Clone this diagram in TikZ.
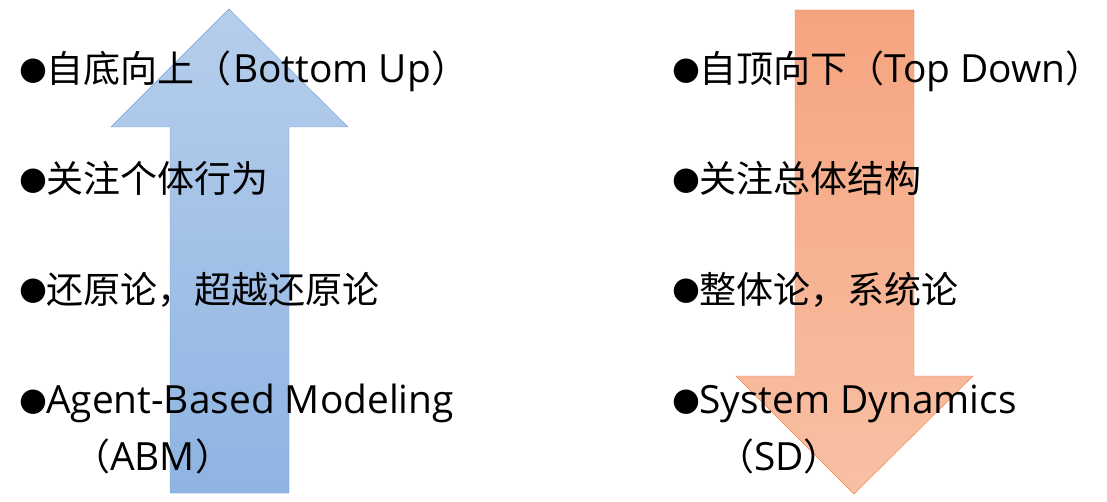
\documentclass[tikz,border=0pt]{standalone}
\usepackage{fontspec}
\setmainfont[Scale=1.05]{Open Sans}
\newfontfamily\cjk{Noto Sans CJK SC}
\newfontfamily\dotfont{DejaVu Sans}

\definecolor{upTop}{RGB}{182,206,236}
\definecolor{upBot}{RGB}{143,180,226}
\definecolor{upLine}{RGB}{112,160,216}
\definecolor{downTop}{RGB}{246,164,128}
\definecolor{downBot}{RGB}{248,192,164}
\definecolor{downLine}{RGB}{240,128,64}

\newcommand\bul{\makebox[27pt][l]{\raisebox{3pt}{\dotfont\fontsize{32}{32}\selectfont ●}}}

\begin{document}
\begin{tikzpicture}[x=1pt,y=-1pt,
    item/.style={anchor=base west,inner sep=0pt,font=\fontsize{37}{44}\selectfont}]
    \useasboundingbox (0,0) rectangle (1107,502);

    % bottom up arrow
    \shadedraw[top color=upTop,bottom color=upBot,draw=upLine,thin]
        (229,9) -- (348,127) -- (289,127) -- (289,493) -- (170,493)
        -- (170,127) -- (111,127) -- cycle;
    % top down arrow
    \shadedraw[top color=downTop,bottom color=downBot,draw=downLine,thin]
        (795,10) -- (914,10) -- (914,376) -- (973,376) -- (854,494)
        -- (736,376) -- (795,376) -- cycle;

    % left column
    \node[item] (bu)  at (19,83)  {\bul{\cjk 自底向上（}\hspace{2pt}Bottom Up{\cjk ）}};
    \node[item] (ind) at (19,193) {\bul{\cjk 关注个体行为}};
    \node[item] (red) at (19,303) {\bul{\cjk 还原论，超越还原论}};
    \node[item] (abm) at (19,413) {\bul Agent-Based Modeling};
    \node[item] (abm2) at (73,470) {{\cjk （}ABM{\cjk ）}};

    % right column
    \node[item] (td)  at (672,83)  {\bul{\cjk 自顶向下（}Top Down{\cjk ）}};
    \node[item] (str) at (672,193) {\bul{\cjk 关注总体结构}};
    \node[item] (hol) at (672,303) {\bul{\cjk 整体论，系统论}};
    \node[item] (sd)  at (672,413) {\bul System Dynamics};
    \node[item] (sd2) at (717,470) {{\cjk （}SD{\cjk ）}};
\end{tikzpicture}
\end{document}
